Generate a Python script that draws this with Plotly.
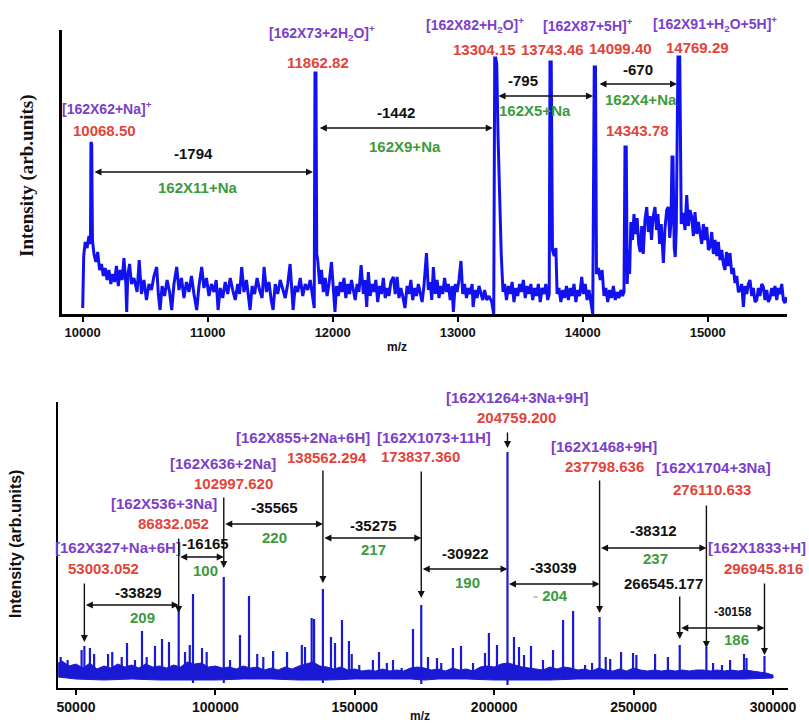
import plotly.graph_objects as go

# ---------------- top spectrum (m/z, intensity in arb. units) ----------------
top_mz = [
    10000, 10008, 10020, 10035, 10050, 10062, 10066, 10072, 10078, 10090, 10105, 10120, 10135, 10150,
    10165, 10180, 10195, 10210, 10225, 10240, 10255, 10270, 10285, 10300, 10315, 10330, 10345, 10352,
    10360, 10375, 10390,
    10410, 10435, 10452, 10470, 10490, 10510, 10530, 10550, 10570, 10592, 10605, 10619, 10635, 10655,
    10675, 10695, 10712, 10730, 10752, 10770, 10790, 10810, 10830, 10850, 10870, 10890, 10912, 10930,
    10952, 10970, 10990, 11010, 11030, 11050, 11068, 11083, 11100, 11120, 11140, 11160, 11180, 11200,
    11220, 11240, 11255, 11272, 11290, 11310, 11325, 11339, 11355, 11375, 11395, 11415, 11435, 11451,
    11470, 11490, 11508, 11523, 11540, 11560, 11580, 11600, 11620, 11640, 11659, 11675, 11683, 11700,
    11720, 11740, 11760, 11780, 11800, 11820, 11840, 11852, 11858, 11866, 11872,
    11880, 11895, 11910, 11925, 11940, 11955, 11970, 11990, 12005, 12018, 12030, 12045, 12060, 12075,
    12090, 12105, 12120, 12135, 12150, 12165, 12180, 12195, 12210, 12227, 12245, 12258, 12272, 12285,
    12300, 12315, 12330, 12345, 12360, 12375, 12390, 12405, 12420, 12435, 12450, 12465, 12485, 12500,
    12515, 12530, 12545, 12560, 12578, 12595, 12610, 12625, 12640, 12655, 12670, 12685, 12700, 12715,
    12730, 12750, 12765, 12780, 12792, 12805, 12820, 12835, 12850, 12865, 12880, 12895, 12910, 12925,
    12940, 12955, 12965, 12980, 12995, 13010, 13026, 13040, 13055, 13070, 13085, 13100, 13115, 13123,
    13140, 13155, 13170, 13185, 13200, 13215, 13232, 13250, 13272, 13288, 13296, 13304, 13312, 13322,
    13335, 13348, 13362,
    13375, 13390, 13405, 13420, 13435, 13450, 13465, 13480, 13495, 13510, 13525, 13540, 13555, 13570,
    13585, 13600, 13615, 13630, 13645, 13660, 13675, 13690, 13705, 13720, 13732, 13738, 13748, 13758,
    13772, 13785, 13795, 13810, 13825, 13840, 13855, 13870, 13885, 13900, 13915, 13930, 13945, 13960,
    13975, 13992, 14005, 14020, 14035, 14050, 14065, 14080, 14092, 14102, 14110, 14125, 14140, 14155,
    14170, 14185, 14200, 14215, 14230, 14245, 14260, 14275, 14290, 14305, 14318, 14330, 14338, 14348,
    14356, 14365, 14375,
    14385, 14398, 14410, 14422, 14435, 14448, 14460, 14472, 14484, 14498, 14512, 14525, 14538, 14550,
    14562, 14578, 14590, 14602, 14615, 14628, 14645, 14658, 14672, 14685, 14696, 14706, 14714, 14722,
    14732, 14740, 14748, 14762, 14776, 14788, 14805, 14818, 14832, 14845, 14858, 14872, 14885, 14898,
    14912, 14925, 14938, 14952, 14965, 14978, 14992, 15005, 15018, 15032, 15045, 15058, 15072, 15085,
    15098, 15112, 15125, 15138, 15150, 15165, 15178, 15192, 15205, 15218, 15232, 15245, 15258, 15272,
    15285, 15298, 15312, 15325, 15338, 15352, 15365, 15378, 15392, 15405, 15418, 15432, 15445, 15458,
    15472, 15485, 15498, 15512, 15525, 15538, 15552, 15565, 15578, 15592, 15605, 15618, 15630,
]
top_int = [
    6, 58, 72, 66, 78, 70, 172, 170, 74, 60, 52, 62, 44, 50,
    38, 46, 34, 44, 30, 40, 32, 48, 28, 44, 34, 56, 30, 2,
    38, 50, 30,
    36, 22, 54, 20, 34, 14, 30, 24, 38, 47, 20, 4, 28, 18,
    34, 22, 4, 30, 47, 24, 36, 16, 32, 22, 38, 20, 4, 28,
    47, 26, 36, 18, 30, 22, 34, 4, 26, 16, 32, 20, 36, 24,
    14, 30, 20, 47, 22, 34, 18, 4, 28, 20, 36, 24, 16, 47,
    22, 32, 14, 4, 30, 20, 34, 24, 16, 30, 50, 20, 4, 28,
    22, 36, 18, 30, 24, 34, 14, 6, 241, 241, 60,
    54, 30, 44, 22, 36, 18, 30, 52, 24, 2, 28, 18, 32, 22,
    36, 16, 30, 20, 34, 24, 14, 30, 22, 49, 20, 34, 7, 42,
    18, 30, 22, 34, 12, 28, 20, 36, 16, 26, 18, 32, 37, 20,
    37, 16, 26, 18, 6, 28, 20, 34, 14, 26, 18, 30, 22, 12,
    28, 61, 24, 32, 14, 47, 20, 34, 16, 28, 20, 36, 22, 30,
    14, 28, 2, 30, 22, 34, 53, 20, 30, 16, 26, 20, 30, 7,
    24, 16, 28, 20, 14, 24, 14, 18, 12, 0, 256, 256, 250, 180,
    110, 60, 22,
    30, 14, 28, 20, 32, 12, 26, 18, 30, 22, 34, 16, 28, 20,
    30, 14, 26, 18, 30, 12, 26, 20, 30, 14, 20, 252, 252, 64,
    58, 66, 20, 26, 12, 24, 16, 28, 14, 26, 18, 30, 12, 24,
    18, 37, 20, 30, 14, 24, 10, 0, 247, 247, 40, 46, 34, 44,
    18, 26, 12, 24, 16, 28, 14, 22, 16, 24, 18, 22, 167, 167,
    30, 64, 40,
    92, 74, 100, 80, 96, 70, 62, 88, 60, 94, 107, 82, 98, 74,
    96, 107, 84, 100, 70, 90, 51, 86, 104, 107, 76, 92, 157, 157,
    66, 57, 84, 257, 257, 90, 101, 84, 119, 88, 104, 97, 78, 102,
    80, 92, 81, 70, 90, 74, 87, 64, 67, 82, 60, 74, 58, 72,
    54, 64, 50, 44, 62, 48, 61, 40, 46, 31, 38, 22, 24, 30,
    7, 28, 20, 30, 34, 18, 26, 12, 14, 26, 18, 30, 27, 14,
    24, 12, 16, 26, 18, 28, 14, 26, 20, 30, 14, 11, 17,
]

# ---------------- bottom spectrum ----------------
# noise band (upper / lower envelope)
bot_upper_mz = [
    43600, 45000, 47500, 50000, 52500, 55000, 57500, 60000, 62500, 65000, 67500, 70000, 72500, 75000,
    77500, 80000, 82500, 85000, 87500, 90000, 92500, 95000, 97500, 100000, 102500, 105000, 107500,
    110000, 112500, 115000, 117500, 120000, 122500, 125000, 127500, 130000, 132500, 135000, 137500,
    140000, 142500, 145000, 147500, 150000, 152500, 155000, 157500, 160000, 162500, 165000, 167500,
    170000, 172500, 175000, 177500, 180000, 182500, 185000, 187500, 190000, 192500, 195000, 197500,
    200000, 202500, 205000, 207500, 210000, 212500, 215000, 217500, 220000, 222500, 225000, 227500,
    230000, 232500, 235000, 237500, 240000, 242500, 245000, 247500, 250000, 252500, 255000, 257500,
    260000, 262500, 265000, 267500, 270000, 272500, 275000, 277500, 280000, 282500, 285000, 287500,
    290000, 292500, 295000, 297500, 300000,
]
bot_upper_int = [
    25, 27, 22, 24, 20, 25, 19, 22, 20, 24, 21, 23, 20, 24,
    21, 22, 20, 23, 21, 26, 24, 25, 21, 22, 20, 21, 19,
    22, 20, 21, 18, 20, 18, 21, 19, 22, 24, 26, 22,
    21, 19, 21, 18, 19, 17, 18, 17, 19, 17, 18, 17,
    20, 21, 20, 18, 19, 17, 20, 18, 19, 17, 21, 22,
    21, 24, 25, 23, 21, 20, 19, 18, 21, 19, 21, 20,
    18, 19, 17, 20, 18, 17, 19, 17, 20, 18, 17, 18,
    17, 18, 17, 18, 17, 18, 18, 17, 18, 17, 18, 17,
    18, 17, 16, 15, 13,
]
bot_lower_mz = [43600, 50000, 60000, 70000, 80000, 90000, 100000, 110000, 120000, 130000, 140000,
                150000, 160000, 170000, 175000, 180000, 190000, 200000, 205000, 210000, 220000,
                230000, 240000, 250000, 260000, 270000, 280000, 290000, 300000]
bot_lower_int = [11, 9, 8, 9, 8, 8, 8, 9, 9, 8, 8,
                 9, 9, 9, 8, 9, 9, 8, 8, 8, 8,
                 9, 9, 9, 9, 9, 9, 9, 10]

# peaks (sticks)
bot_peak_mz = [
    44500, 47000, 52000, 53003, 55000, 56500, 61500, 63000, 66400, 68300, 71160, 73670, 75350, 78330,
    80850, 83350, 86832, 89100, 90800, 91966, 95200, 96870, 102997, 105240, 108820, 112050, 115000,
    117180, 120700, 125700, 131000, 132140, 134530, 135400, 138562, 141460, 142900, 145400, 147900,
    148900, 151600, 156500, 158680, 161500, 163700, 166800, 170870, 173837, 176250, 179480, 181000,
    185200, 188100, 192400, 196700, 198100, 201000, 204759, 207100, 208900, 210700, 213200, 217500,
    221100, 224700, 228300, 232600, 235100, 237798, 240000, 241600, 245500, 249800, 251000, 257700,
    262300, 266545, 276110, 278500, 281700, 284600, 289600, 290500, 296945,
]
bot_peak_int = [
    31, 28, 38, 42, 40, 34, 34, 36, 31, 45, 28, 57, 31, 42,
    49, 46, 78, 36, 43, 94, 40, 36, 111, 28, 53, 92, 34,
    31, 37, 36, 43, 41, 70, 69, 99, 51, 45, 68, 47,
    34, 23, 28, 36, 25, 28, 20, 59, 83, 31, 30, 25,
    40, 42, 25, 35, 55, 43, 236, 51, 41, 33, 42, 28,
    38, 68, 77, 23, 25, 71, 31, 29, 36, 35, 33, 34,
    31, 43, 41, 25, 23, 28, 34, 30, 32,
]
# small downward spikes below the noise band at the strong peaks
bot_dip_mz = [91966, 102997, 138562, 173837, 204759]
bot_dip_int = [5, 5, 5, 4, 3]
bot_stick_base = 12

PURPLE = "#7b3fc9"
RED = "#e2443a"
GREEN = "#3d9a3d"
BLACK = "#111111"
BLUE_TOP = "#1212f0"
BLUE_BOT = "#1a1ad4"
SANS = "Liberation Sans, Arial, sans-serif"
SERIF = "Liberation Serif, Times New Roman, serif"

fig = go.Figure()

# top spectrum
fig.add_trace(go.Scatter(x=top_mz, y=top_int, mode="lines", xaxis="x", yaxis="y",
                         line=dict(color=BLUE_TOP, width=3), hoverinfo="skip", showlegend=False))

# bottom noise band
band_x = bot_upper_mz + bot_lower_mz[::-1]
band_y = bot_upper_int + bot_lower_int[::-1]
fig.add_trace(go.Scatter(x=band_x, y=band_y, mode="lines", fill="toself", fillcolor=BLUE_BOT,
                         xaxis="x2", yaxis="y2", line=dict(color=BLUE_BOT, width=1),
                         hoverinfo="skip", showlegend=False))
# bottom sticks (peaks up, dips down)
sx, sy = [], []
for m, h in zip(bot_peak_mz, bot_peak_int):
    sx += [m, m, None]
    sy += [bot_stick_base, h, None]
for m, h in zip(bot_dip_mz, bot_dip_int):
    sx += [m, m, None]
    sy += [bot_stick_base, h, None]
fig.add_trace(go.Scatter(x=sx, y=sy, mode="lines", xaxis="x2", yaxis="y2",
                         line=dict(color=BLUE_BOT, width=2.2), hoverinfo="skip", showlegend=False))

ann = []


def txt(x, y, text, color, size=15, bold=True, ref=1, font=SANS, ypaper=None):
    xr, yr = ("x", "y") if ref == 1 else ("x2", "y2")
    t = f"<b>{text}</b>" if bold else text
    d = dict(x=x, y=y, xref=xr, yref=yr, text=t, showarrow=False,
             font=dict(family=font, size=size, color=color),
             xanchor="center", yanchor="middle")
    if ypaper is not None:   # labels sitting above the top of the axis
        d["y"] = ypaper
        d["yref"] = "paper"
    ann.append(d)


def arrow(x0, y0, x1, y1, ref=1, both=False, width=1.4):
    xr, yr = ("x", "y") if ref == 1 else ("x2", "y2")
    ann.append(dict(x=x1, y=y1, ax=x0, ay=y0, xref=xr, yref=yr, axref=xr, ayref=yr,
                    text="", showarrow=True, arrowhead=2, arrowsize=1, arrowwidth=width,
                    arrowcolor=BLACK, arrowside="end+start" if both else "end",
                    standoff=0, startstandoff=0))


# ---- top panel labels ----
txt(10194, 206, "[162X62+Na]<sup>+</sup>", PURPLE, 14)
txt(10178, 183, "10068.50", RED)
txt(11914, 281, "[162X73+2H<sub>2</sub>O]<sup>+</sup>", PURPLE, 14)
txt(11882, 251, "11862.82", RED)
txt(13138, 0, "[162X82+H<sub>2</sub>O]<sup>+</sup>", PURPLE, 14, ypaper=1 - 25 / 724)
txt(14042, 0, "[162X87+5H]<sup>+</sup>", PURPLE, 14, ypaper=1 - 25 / 724)
txt(15058, 0, "[162X91+H<sub>2</sub>O+5H]<sup>+</sup>", PURPLE, 14, ypaper=1 - 24 / 724)
txt(13218, 264, "13304.15", RED)
txt(13762, 264, "13743.46", RED)
txt(14306, 265, "14099.40", RED)
txt(14922, 266, "14769.29", RED)
txt(14442, 183, "14343.78", RED)
txt(10890, 160, "-1794", BLACK)
txt(10922, 126, "162X11+Na", GREEN)
txt(12506, 201, "-1442", BLACK)
txt(12578, 167, "162X9+Na", GREEN)
txt(13522, 233, "-795", BLACK)
txt(13618, 203, "162X5+Na", GREEN)
txt(14442, 244, "-670", BLACK)
txt(14466, 214, "162X4+Na", GREEN)
arrow(10082, 142, 11842, 142, both=True)
arrow(11885, 186, 13280, 186, both=True)
arrow(13314, 218, 14082, 218, both=True)
arrow(14122, 230, 14754, 230, both=True)

# ---- bottom panel labels ----
txt(131421, 251, "[162X855+2Na+6H]", PURPLE, 15, ref=2)
txt(140029, 231, "138562.294", RED, ref=2)
txt(102726, 225, "[162X636+2Na]", PURPLE, 15, ref=2)
txt(106313, 205, "102997.620", RED, ref=2)
txt(81564, 185, "[162X536+3Na]", PURPLE, 15, ref=2)
txt(84792, 165, "86832.052", RED, ref=2)
txt(65065, 141, "[162X327+Na+6H]", PURPLE, 15, ref=2)
txt(59684, 120, "53003.052", RED, ref=2)
txt(178407, 251, "[162X1073+11H]", PURPLE, 15, ref=2)
txt(173386, 232, "173837.360", RED, ref=2)
txt(208178, 0, "[162X1264+3Na+9H]", PURPLE, 15, ref=2, ypaper=1 - 397 / 724)
txt(207819, 271, "204759.200", RED, ref=2)
txt(239383, 242, "[162X1468+9H]", PURPLE, 15, ref=2)
txt(239383, 222, "237798.636", RED, ref=2)
txt(278479, 221, "[162X1704+3Na]", PURPLE, 15, ref=2)
txt(278120, 199, "276110.633", RED, ref=2)
txt(294261, 141, "[162X1833+H]", PURPLE, 15, ref=2)
txt(296413, 120, "296945.816", RED, ref=2)
txt(260545, 105, "266545.177", BLACK, ref=2)
txt(96270, 145, "-16165", BLACK, ref=2)
txt(96270, 118, "100", GREEN, ref=2)
txt(121019, 181, "-35565", BLACK, ref=2)
txt(121019, 151, "220", GREEN, ref=2)
txt(156528, 163, "-35275", BLACK, ref=2)
txt(156528, 139, "217", GREEN, ref=2)
txt(189527, 135, "-30922", BLACK, ref=2)
txt(190245, 106, "190", GREEN, ref=2)
txt(221090, 121, "-33039", BLACK, ref=2)
txt(220014, 93, "<span style='color:#a8d0a8'>-</span> 204", GREEN, ref=2)
txt(256958, 158, "-38312", BLACK, ref=2)
txt(257676, 130, "237", GREEN, ref=2)
txt(72238, 96, "-33829", BLACK, ref=2)
txt(73673, 71, "209", GREEN, ref=2)
txt(285653, 76, "-30158", BLACK, 12, ref=2)
txt(286729, 49, "186", GREEN, ref=2)

# vertical arrows (tail -> head)
arrow(53003, 106, 53003, 46, ref=2)
arrow(86832, 151, 86832, 75, ref=2)
arrow(102997, 192, 102997, 120, ref=2)
arrow(138562, 219, 138562, 105, ref=2)
arrow(173837, 218, 173837, 90, ref=2)
arrow(204759, 257, 204759, 240, ref=2)
arrow(237798, 209, 237798, 75, ref=2)
arrow(276110, 184, 276110, 40, ref=2)
arrow(266545, 93, 266545, 49, ref=2)
arrow(296945, 106, 296945, 33, ref=2)
# horizontal double arrows
arrow(86832, 131, 102997, 131, ref=2, both=True)
arrow(102997, 164, 138562, 164, ref=2, both=True)
arrow(138562, 150, 173837, 150, ref=2, both=True)
arrow(173837, 119, 204759, 119, ref=2, both=True)
arrow(204759, 104, 237798, 104, ref=2, both=True)
arrow(237798, 140, 276110, 140, ref=2, both=True)
arrow(53003, 83, 86832, 83, ref=2, both=True)
arrow(266545, 60, 296945, 60, ref=2, both=True)

# axis titles
ann.append(dict(x=397 / 809, y=1 - 347 / 724, xref="paper", yref="paper", text="<b>m/z</b>",
                xanchor="center", yanchor="middle",
                showarrow=False, font=dict(family=SANS, size=12, color=BLACK)))
ann.append(dict(x=420 / 809, y=1 - 716 / 724, xref="paper", yref="paper", text="<b>m/z</b>",
                xanchor="center", yanchor="middle",
                showarrow=False, font=dict(family=SANS, size=12, color=BLACK)))
ann.append(dict(x=27 / 809, y=1 - 176 / 724, xref="paper", yref="paper",
                text="<b>Intensity (arb.units)</b>", textangle=-90, showarrow=False,
                xanchor="center", yanchor="middle",
                font=dict(family=SERIF, size=19, color=BLACK)))
ann.append(dict(x=15 / 809, y=1 - 544 / 724, xref="paper", yref="paper",
                text="<b>Intensity (arb.units)</b>", textangle=-90, showarrow=False,
                xanchor="center", yanchor="middle",
                font=dict(family=SANS, size=16, color=BLACK)))

top_ticks = [10000, 11000, 12000, 13000, 14000, 15000]
bot_ticks = [50000, 100000, 150000, 200000, 250000, 300000]

fig.update_layout(
    width=809, height=724, margin=dict(l=0, r=0, t=0, b=0),
    paper_bgcolor="white", plot_bgcolor="white", showlegend=False,
    annotations=ann,
    xaxis=dict(domain=[61.7 / 809, 787 / 809], range=[9832, 15634], anchor="y",
               showline=True, linecolor="black", linewidth=2.5, ticks="outside", ticklen=5,
               tickwidth=2, tickcolor="black", tickvals=top_ticks,
               ticktext=[str(t) for t in top_ticks],
               tickfont=dict(family=SANS, size=13, color=BLACK, weight="bold"),
               showgrid=False, zeroline=False, automargin=False),
    yaxis=dict(domain=[1 - 314 / 724, 1 - 30 / 724], range=[0, 284], anchor="x",
               showline=True, linecolor="black", linewidth=2.5, showticklabels=False,
               ticks="", showgrid=False, zeroline=False, automargin=False),
    xaxis2=dict(domain=[58 / 809, 788 / 809], range=[43544, 305380], anchor="y2",
                showline=True, linecolor="black", linewidth=2, ticks="outside", ticklen=5,
                tickwidth=2, tickcolor="black", tickvals=bot_ticks,
                ticktext=[str(t) for t in bot_ticks],
                tickfont=dict(family=SANS, size=14, color=BLACK, weight="bold"),
                showgrid=False, zeroline=False, automargin=False),
    yaxis2=dict(domain=[1 - 688 / 724, 1 - 402 / 724], range=[0, 286], anchor="x2",
                showline=True, linecolor="black", linewidth=2, showticklabels=False,
                ticks="", showgrid=False, zeroline=False, automargin=False),
)

fig.write_html("out.html", config={"displayModeBar": False},
               post_script="document.body.style.margin='0';document.body.style.padding='0';"
                           "document.documentElement.style.overflow='hidden';")
